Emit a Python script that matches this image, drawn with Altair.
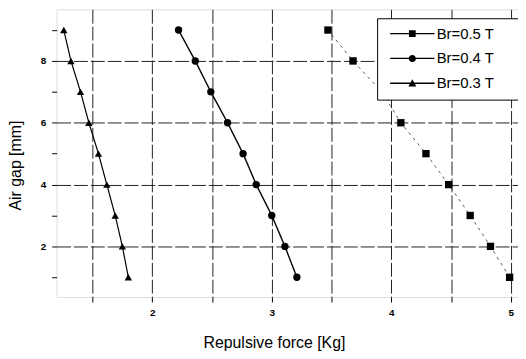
import altair as alt
import pandas as pd

series = ["Br=0.5 T", "Br=0.4 T", "Br=0.3 T"]
gap = [9, 8, 7, 6, 5, 4, 3, 2, 1]
force_05 = [3.47, 3.68, 3.92, 4.08, 4.29, 4.48, 4.66, 4.83, 4.99]
force_04 = [2.22, 2.36, 2.49, 2.63, 2.76, 2.87, 3.00, 3.11, 3.21]
force_03 = [1.26, 1.32, 1.40, 1.47, 1.55, 1.62, 1.69, 1.75, 1.80]
x_ticks = [1.5, 2, 2.5, 3, 3.5, 4, 4.5, 5]
y_ticks = [1, 2, 3, 4, 5, 6, 7, 8, 9]

rows = []
for s, vals in zip(series, [force_05, force_04, force_03]):
    for g, f in zip(gap, vals):
        rows.append({"series": s, "force": f, "gap": g})
df = pd.DataFrame(rows)

FONT = "Liberation Sans"
xs = alt.Scale(domain=[1.2, 5.06], nice=False, zero=False)
ys = alt.Scale(domain=[0.36, 9.67], nice=False, zero=False)

x_axis = alt.Axis(
    values=x_ticks, labelExpr="datum.value % 1 == 0 ? format(datum.value, 'd') : ''",
    title="Repulsive force [Kg]", titleFont=FONT, titleFontSize=16, titleFontWeight="normal",
    titleX=219, titleY=38, titleColor="black",
    labelFont=FONT, labelFontSize=10, labelFontWeight="bold", labelColor="black",
    labelPadding=6, tickSize=5, tickColor="black", domain=False,
    grid=True, gridColor="#222", gridDash=[14, 3], gridWidth=1,
)
y_axis = alt.Axis(
    values=y_ticks, labelExpr="datum.value % 2 == 0 ? datum.label : ''",
    title="Air gap [mm]", titleFont=FONT, titleFontSize=16, titleFontWeight="normal",
    titleX=-41, titleY=157, titleAngle=-90, titleBaseline="middle", titleAlign="center",
    titleColor="black",
    labelFont=FONT, labelFontSize=10, labelFontWeight="bold", labelColor="black",
    labelPadding=6, tickSize=5, tickColor="black", domain=False,
    grid=True, gridColor="#222", gridDash=[14, 3], gridWidth=1,
    gridOpacity={"condition": {"test": "datum.value % 2 == 0", "value": 1}, "value": 0},
)

base = alt.Chart(df)

def line_layer(name, dash, width, color):
    return base.transform_filter(alt.datum.series == name).mark_line(
        color=color, strokeWidth=width, strokeDash=dash
    ).encode(
        x=alt.X("force:Q", scale=xs, axis=x_axis),
        y=alt.Y("gap:Q", scale=ys, axis=y_axis),
        order=alt.Order("gap:Q"),
    )

l05 = line_layer("Br=0.5 T", [3, 4], 0.8, "#333")
l04 = line_layer("Br=0.4 T", [1, 0], 1.4, "black")
l03 = line_layer("Br=0.3 T", [1, 0], 1.2, "black")

points = base.mark_point(filled=True, color="black", opacity=1, size=55).encode(
    x=alt.X("force:Q", scale=xs, axis=x_axis),
    y=alt.Y("gap:Q", scale=ys, axis=y_axis),
    shape=alt.Shape("series:N", scale=alt.Scale(domain=series, range=["square", "circle", "triangle-up"]), legend=None),
)

# legend glyphs (1 unit = 4px): a filled thin bar as the line, marker in the middle;
# the trailing move-to only widens the glyph's bounds so the legend box gets wider
BAR = "M-5.6,-0.16H5.6V0.16H-5.6Z"
PAD = "M23.8,0"
legend_paths = [
    BAR + "M-0.85,-0.85H0.85V0.85H-0.85Z" + PAD,
    BAR + "M0.9,0A0.9,0.9 0 1 1 -0.9,0A0.9,0.9 0 1 1 0.9,0Z" + PAD,
    BAR + "M0,-1L1,0.8H-1Z" + PAD,
]

leg_df = pd.DataFrame({"series": series, "force": [20, 20, 20], "gap": [5, 5, 5]})
legend_layer = alt.Chart(leg_df).mark_point(
    filled=True, color="black", opacity=1, clip=True
).encode(
    x=alt.X("force:Q", scale=xs, axis=x_axis),
    y=alt.Y("gap:Q", scale=ys, axis=y_axis),
    shape=alt.Shape(
        "series:N",
        scale=alt.Scale(domain=series, range=legend_paths),
        legend=alt.Legend(
            title=None, orient="none", legendX=323, legendY=9,
            fillColor="white", strokeColor="black",
            padding=8, symbolSize=64, symbolOffset=20,
            symbolFillColor="black",
            labelFont=FONT, labelFontSize=15, labelColor="black",
            labelOffset=17, rowPadding=9,
        ),
    ),
)

chart = alt.layer(l05, l04, l03, points, legend_layer).resolve_scale(
    shape="independent"
).properties(
    width=465, height=290,
    autosize=alt.AutoSizeParams(type="none"),
    padding={"left": 49, "top": 0, "right": 0, "bottom": 53},
).configure_view(stroke="black", strokeWidth=1.5).configure_legend(
    strokeWidth=1.5
).configure(background="white")

chart.save("out.html", embed_options={"renderer": "svg", "actions": False})
